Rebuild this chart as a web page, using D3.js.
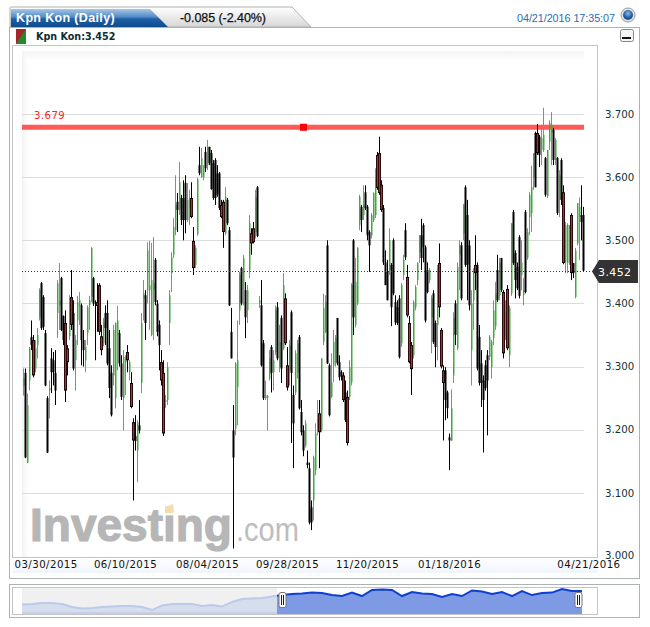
<!DOCTYPE html>
<meta charset="utf-8">
<style type="text/css">
html, body { margin: 0; padding: 0; background: #fff; }
svg { display: block; font-family: "DejaVu Sans", sans-serif; }
.grid { stroke: #dcdcdc; stroke-width: 1; shape-rendering: crispEdges; }
.frame { fill: none; stroke: #c4c4c4; stroke-width: 1; shape-rendering: crispEdges; }
.panel { fill: #fff; stroke: #adb2b2; stroke-width: 1; shape-rendering: crispEdges; }
.axis path, .axis line { display: none; }
.axis text { fill: #12323a; font-family: "DejaVu Sans", sans-serif; font-size: 10.2px; }
.dates text { fill: #111; letter-spacing: 0.45px; }
</style>
<body>
<div id="chart"></div>
<script src="https://d3js.org/d3.v7.min.js"></script>
<script type="text/javascript">
// daily candles
var opens = [
3.270,3.290,3.148,3.278,3.347,3.342,3.297,3.334,3.378,3.432,
3.410,3.353,3.250,3.262,3.313,3.310,3.290,3.385,3.397,3.440,
3.380,3.369,3.329,3.348,3.410,3.385,3.310,3.373,3.396,3.397,
3.342,3.310,3.353,3.397,3.410,3.440,3.400,3.402,3.429,3.348,
3.337,3.385,3.385,3.329,3.290,3.286,3.250,3.350,3.353,3.305,
3.250,3.307,3.323,3.291,3.274,3.212,3.190,3.167,3.207,3.274,
3.408,3.413,3.421,3.421,3.350,3.421,3.469,3.399,3.366,3.307,
3.290,3.244,3.247,3.369,3.448,3.477,3.516,3.561,3.548,3.567,
3.567,3.591,3.532,3.553,3.567,3.499,3.461,3.510,3.619,3.600,
3.600,3.640,3.619,3.648,3.638,3.622,3.627,3.606,3.606,3.556,
3.561,3.511,3.564,3.516,3.355,3.199,3.202,3.267,3.389,3.456,
3.421,3.421,3.389,3.453,3.511,3.519,3.513,3.584,3.400,3.397,
3.337,3.250,3.250,3.281,3.331,3.291,3.323,3.394,3.299,3.377,
3.329,3.408,3.302,3.294,3.386,3.255,3.259,3.290,3.347,3.228,
3.199,3.175,3.148,3.139,3.077,3.088,3.136,3.199,3.226,3.199,
3.339,3.355,3.492,3.302,3.252,3.302,3.307,3.377,3.307,3.291,
3.286,3.259,3.252,3.252,3.275,3.500,3.366,3.400,3.524,3.553,
3.540,3.576,3.553,3.513,3.508,3.532,3.540,3.635,3.638,3.588,
3.551,3.465,3.450,3.453,3.461,3.500,3.402,3.394,3.408,3.337,
3.445,3.516,3.442,3.369,3.334,3.318,3.394,3.437,3.480,3.508,
3.524,3.489,3.453,3.437,3.377,3.416,3.369,3.366,3.464,3.358,
3.294,3.294,3.259,3.188,3.183,3.286,3.400,3.329,3.477,3.492,
3.511,3.584,3.540,3.492,3.326,3.405,3.461,3.461,3.347,3.305,
3.278,3.302,3.318,3.315,3.299,3.345,3.364,3.453,3.413,3.472,
3.418,3.347,3.423,3.318,3.416,3.545,3.480,3.458,3.505,3.445,
3.413,3.545,3.472,3.537,3.543,3.599,3.670,3.670,3.664,3.643,
3.643,3.630,3.570,3.656,3.671,3.675,3.627,3.630,3.564,3.627,
3.576,3.465,3.464,3.464,3.540,3.464,3.410,3.495,3.537,3.540,3.540];
var highs = [
3.297,3.297,3.257,3.331,3.373,3.350,3.342,3.361,3.424,3.434,
3.413,3.358,3.253,3.278,3.329,3.323,3.326,3.437,3.464,3.442,
3.381,3.389,3.334,3.413,3.453,3.405,3.350,3.412,3.418,3.400,
3.358,3.342,3.397,3.412,3.489,3.442,3.405,3.432,3.432,3.366,
3.377,3.397,3.405,3.358,3.302,3.366,3.370,3.396,3.358,3.318,
3.326,3.318,3.334,3.310,3.291,3.218,3.223,3.215,3.247,3.385,
3.437,3.421,3.497,3.499,3.496,3.505,3.472,3.405,3.373,3.326,
3.310,3.255,3.307,3.421,3.481,3.535,3.603,3.575,3.624,3.572,
3.595,3.603,3.591,3.580,3.592,3.521,3.492,3.599,3.648,3.646,
3.619,3.648,3.659,3.648,3.643,3.627,3.630,3.619,3.608,3.564,
3.564,3.584,3.567,3.521,3.393,3.239,3.307,3.373,3.450,3.458,
3.477,3.434,3.429,3.540,3.519,3.529,3.580,3.586,3.412,3.437,
3.342,3.278,3.255,3.326,3.334,3.326,3.397,3.402,3.366,3.381,
3.448,3.416,3.331,3.342,3.389,3.270,3.326,3.342,3.350,3.247,
3.207,3.215,3.167,3.148,3.088,3.159,3.210,3.247,3.247,3.313,
3.415,3.413,3.500,3.305,3.321,3.358,3.350,3.377,3.318,3.294,
3.291,3.278,3.262,3.310,3.432,3.502,3.472,3.489,3.572,3.556,
3.587,3.587,3.556,3.516,3.543,3.576,3.614,3.640,3.664,3.595,
3.556,3.484,3.469,3.519,3.464,3.503,3.413,3.405,3.413,3.432,
3.477,3.527,3.461,3.380,3.339,3.405,3.429,3.465,3.508,3.534,
3.527,3.492,3.465,3.456,3.413,3.421,3.373,3.461,3.495,3.361,
3.302,3.299,3.262,3.194,3.264,3.386,3.405,3.465,3.500,3.497,
3.557,3.587,3.564,3.500,3.421,3.456,3.508,3.465,3.366,3.326,
3.286,3.310,3.326,3.350,3.342,3.405,3.434,3.477,3.472,3.472,
3.421,3.405,3.429,3.397,3.527,3.548,3.484,3.465,3.508,3.500,
3.440,3.548,3.519,3.576,3.618,3.638,3.672,3.684,3.667,3.683,
3.710,3.632,3.643,3.690,3.703,3.678,3.662,3.632,3.611,3.630,
3.587,3.529,3.527,3.524,3.543,3.464,3.488,3.559,3.568,3.587,3.553];
var lows = [
3.254,3.155,3.147,3.262,3.326,3.283,3.291,3.313,3.373,3.358,
3.358,3.269,3.163,3.218,3.258,3.270,3.239,3.345,3.358,3.356,
3.334,3.244,3.286,3.342,3.358,3.294,3.262,3.334,3.366,3.302,
3.300,3.291,3.334,3.358,3.402,3.396,3.310,3.355,3.350,3.318,
3.332,3.334,3.302,3.250,3.221,3.270,3.234,3.294,3.300,3.247,
3.199,3.255,3.291,3.278,3.234,3.088,3.167,3.117,3.194,3.258,
3.373,3.342,3.400,3.358,3.348,3.342,3.397,3.348,3.294,3.270,
3.190,3.234,3.239,3.334,3.418,3.472,3.508,3.513,3.540,3.524,
3.500,3.511,3.529,3.524,3.535,3.445,3.456,3.507,3.603,3.599,
3.595,3.608,3.611,3.619,3.580,3.564,3.556,3.569,3.548,3.535,
3.488,3.508,3.524,3.396,3.313,3.012,3.191,3.207,3.366,3.397,
3.397,3.345,3.369,3.440,3.477,3.495,3.503,3.505,3.393,3.300,
3.247,3.247,3.199,3.278,3.259,3.262,3.318,3.310,3.291,3.274,
3.326,3.334,3.262,3.270,3.179,3.139,3.255,3.281,3.232,3.191,
3.158,3.172,3.139,3.050,3.041,3.056,3.128,3.191,3.139,3.196,
3.334,3.353,3.304,3.221,3.250,3.275,3.300,3.302,3.278,3.278,
3.244,3.212,3.175,3.247,3.270,3.350,3.362,3.397,3.516,3.513,
3.532,3.548,3.500,3.450,3.503,3.529,3.535,3.580,3.572,3.545,
3.461,3.429,3.405,3.445,3.364,3.413,3.366,3.366,3.313,3.331,
3.437,3.469,3.378,3.305,3.255,3.313,3.389,3.429,3.464,3.453,
3.465,3.370,3.416,3.432,3.321,3.336,3.299,3.310,3.378,3.297,
3.183,3.215,3.218,3.136,3.182,3.274,3.334,3.326,3.421,3.405,
3.500,3.458,3.405,3.389,3.270,3.358,3.421,3.294,3.270,3.236,
3.164,3.262,3.191,3.310,3.281,3.334,3.358,3.402,3.405,3.418,
3.313,3.342,3.326,3.299,3.412,3.461,3.408,3.421,3.408,3.421,
3.397,3.416,3.469,3.508,3.513,3.580,3.584,3.635,3.616,3.619,
3.640,3.569,3.567,3.643,3.619,3.619,3.619,3.540,3.537,3.556,
3.462,3.448,3.448,3.461,3.437,3.440,3.408,3.492,3.469,3.500,3.450];
var closes = [
3.281,3.156,3.239,3.329,3.334,3.286,3.329,3.350,3.421,3.361,
3.363,3.270,3.164,3.266,3.291,3.291,3.262,3.432,3.405,3.358,
3.342,3.262,3.307,3.402,3.366,3.297,3.342,3.402,3.405,3.342,
3.326,3.331,3.394,3.405,3.488,3.400,3.399,3.396,3.355,3.326,
3.370,3.361,3.305,3.266,3.223,3.358,3.369,3.373,3.305,3.252,
3.315,3.313,3.310,3.307,3.236,3.183,3.182,3.212,3.199,3.369,
3.416,3.369,3.484,3.429,3.437,3.432,3.402,3.355,3.334,3.278,
3.194,3.247,3.299,3.413,3.473,3.521,3.556,3.548,3.592,3.532,
3.532,3.532,3.564,3.567,3.537,3.456,3.488,3.597,3.606,3.630,
3.614,3.614,3.648,3.622,3.581,3.567,3.567,3.572,3.551,3.537,
3.513,3.569,3.527,3.397,3.313,3.156,3.305,3.310,3.445,3.400,
3.472,3.378,3.421,3.527,3.495,3.497,3.569,3.507,3.405,3.302,
3.250,3.255,3.253,3.313,3.290,3.310,3.389,3.313,3.339,3.297,
3.429,3.337,3.267,3.334,3.290,3.210,3.321,3.337,3.234,3.196,
3.167,3.210,3.144,3.053,3.053,3.156,3.194,3.218,3.196,3.313,
3.393,3.402,3.305,3.223,3.275,3.339,3.345,3.305,3.283,3.285,
3.247,3.215,3.179,3.299,3.429,3.378,3.434,3.488,3.569,3.532,
3.556,3.551,3.508,3.492,3.540,3.575,3.599,3.583,3.575,3.548,
3.465,3.429,3.405,3.500,3.394,3.416,3.370,3.369,3.315,3.429,
3.469,3.473,3.381,3.307,3.296,3.402,3.426,3.464,3.508,3.472,
3.489,3.373,3.418,3.453,3.408,3.339,3.331,3.456,3.394,3.300,
3.274,3.247,3.234,3.183,3.234,3.377,3.350,3.458,3.492,3.408,
3.557,3.461,3.461,3.397,3.400,3.450,3.448,3.297,3.274,3.274,
3.247,3.266,3.278,3.347,3.339,3.389,3.416,3.405,3.464,3.421,
3.321,3.385,3.329,3.393,3.527,3.464,3.437,3.424,3.412,3.465,
3.421,3.418,3.513,3.572,3.584,3.638,3.584,3.638,3.635,3.662,
3.667,3.572,3.643,3.686,3.683,3.627,3.659,3.543,3.603,3.564,
3.464,3.524,3.524,3.524,3.448,3.448,3.484,3.559,3.553,3.529,3.452];
// bars the site paints dark red
var redBars = [5,21,22,24,37,38,39,52,54,55,69,70,84,85,99,100,114,115,131,132,148,160,162,
  177,178,179,192,193,194,208,209,210,226,240,242,257,270,274];

var priceTicks = [3.0, 3.1, 3.2, 3.3, 3.4, 3.5, 3.6, 3.7];
var dateTickIndex = [0, 51, 92, 132, 172, 213, 280];
var dateTickLabels = ["03/30/2015", "06/10/2015", "08/04/2015", "09/28/2015", "11/20/2015", "01/18/2016", "04/21/2016"];

var lastPrice = 3.452;
var hLinePrice = 3.679;

// overview strip, whole history
var overviewValues = [2.37,2.41,2.49,2.49,2.41,2.16,2.04,2.08,2.16,2.20,
  2.25,2.25,2.16,1.92,2.29,2.41,2.41,2.41,2.25,2.33,
  2.20,2.57,2.81,2.85,2.89,3.01,3.13,3.21,3.25,3.33,
  3.29,3.13,3.05,3.33,3.05,3.54,3.58,3.54,3.05,3.37,
  3.25,3.21,2.97,3.21,3.05,3.50,3.41,3.21,3.37,3.05,
  3.45,3.13,3.29,3.33,3.62,3.45,3.45];

var svg = d3.select("#chart").append("svg").attr("width", 650).attr("height", 627);
var defs = svg.append("defs");

function vGrad(id, stops) {
    var g = defs.append("linearGradient").attr("id", id).attr("x1", 0).attr("y1", 0).attr("x2", 0).attr("y2", 1);
    stops.forEach(function(s) { g.append("stop").attr("offset", s[0]).attr("stop-color", s[1]); });
}
vGrad("tabBlue", [[0, "#a9c6e6"], [0.45, "#4f8ac6"], [0.55, "#1f5fa6"], [1, "#0f4c8e"]]);
vGrad("tabGrey", [[0, "#ffffff"], [1, "#d6d6d6"]]);
vGrad("fadeTop", [[0, "#f4f4f4"], [1, "#ffffff"]]);
vGrad("dateStrip", [[0, "#ffffff"], [1, "#f1f5fc"]]);
var fadeLeft = defs.append("linearGradient").attr("id", "fadeLeft");
fadeLeft.append("stop").attr("offset", 0).attr("stop-color", "#f2f2f2");
fadeLeft.append("stop").attr("offset", 1).attr("stop-color", "#ffffff").attr("stop-opacity", 0);
var globe = defs.append("radialGradient").attr("id", "globe").attr("cx", 0.5).attr("cy", 0.35).attr("r", 0.7);
globe.append("stop").attr("offset", 0).attr("stop-color", "#8fb8e6");
globe.append("stop").attr("offset", 0.55).attr("stop-color", "#2a66ad");
globe.append("stop").attr("offset", 1).attr("stop-color", "#123f78");
defs.append("clipPath").attr("id", "ovOld").append("rect").attr("x", 22).attr("y", 586).attr("width", 255).attr("height", 30);
defs.append("clipPath").attr("id", "ovNew").append("rect").attr("x", 277).attr("y", 586).attr("width", 306).attr("height", 30);

// panels
svg.append("rect").attr("class", "panel").attr("x", 9.5).attr("y", 27.5).attr("width", 630).attr("height", 551);
svg.append("rect").attr("class", "panel").attr("x", 9.5).attr("y", 584.5).attr("width", 630).attr("height", 33);

// header tabs
svg.append("path").attr("d", "M10,27 L10,8 Q10,7 11,7 L292,7 L311,27 Z").attr("fill", "url(#tabGrey)").attr("stroke", "#adb2b2");
svg.append("path").attr("d", "M11,27 L11,9 L150,9 L168,27 Z").attr("fill", "url(#tabBlue)");
svg.append("text").attr("x", 16).attr("y", 22).attr("fill", "#fff").attr("font-family", "'Liberation Sans', sans-serif")
    .attr("font-weight", "bold").attr("font-size", 12.5).attr("letter-spacing", 0.35).text("Kpn Kon (Daily)");
svg.append("text").attr("x", 180).attr("y", 22).attr("fill", "#111").attr("stroke", "#111").attr("stroke-width", 0.25)
    .attr("font-family", "'Liberation Sans', sans-serif")
    .attr("font-size", 12.5).attr("textLength", 86).text("-0.085 (-2.40%)");
svg.append("text").attr("x", 517).attr("y", 22).attr("fill", "#2a6db0").attr("font-family", "'Liberation Sans', sans-serif")
    .attr("font-size", 10.8).attr("textLength", 98).text("04/21/2016 17:35:07");
svg.append("circle").attr("cx", 628).attr("cy", 15).attr("r", 7).attr("fill", "#e6e6e6").attr("stroke", "#999");
svg.append("circle").attr("cx", 628).attr("cy", 15).attr("r", 5).attr("fill", "url(#globe)");

// legend line
svg.append("rect").attr("x", 16).attr("y", 29).attr("width", 10).attr("height", 15).attr("fill", "#228b2b");
svg.append("path").attr("d", "M16,29 L26,29 L16,44 Z").attr("fill", "#a3262a");
svg.append("text").attr("x", 36).attr("y", 40).attr("fill", "#0c2d33").attr("font-weight", "bold").attr("font-size", 9.6).text("Kpn Kon:3.452");
svg.append("rect").attr("x", 620.5).attr("y", 29.5).attr("width", 13).attr("height", 12).attr("rx", 2).attr("fill", "#f4f4f4").attr("stroke", "#888");
svg.append("rect").attr("x", 622).attr("y", 37).attr("width", 9).attr("height", 2).attr("fill", "#111");

// plot background
svg.append("rect").attr("x", 22).attr("y", 51).attr("width", 562).attr("height", 10).attr("fill", "url(#fadeTop)");
svg.append("rect").attr("x", 22).attr("y", 51).attr("width", 9).attr("height", 506).attr("fill", "url(#fadeLeft)");
svg.append("rect").attr("x", 12.5).attr("y", 557).attr("width", 585).attr("height", 16).attr("fill", "url(#dateStrip)");
svg.append("rect").attr("class", "frame").attr("x", 12.5).attr("y", 45.5).attr("width", 585).attr("height", 511.5);

// watermark
var logo = svg.append("g").attr("font-family", "'Liberation Sans', sans-serif");
logo.append("text").attr("x", 30).attr("y", 541).attr("fill", "#b6b6b6").attr("stroke", "#b6b6b6").attr("stroke-width", 1.2)
    .attr("font-weight", "bold").attr("font-size", 46).text("Investing");
logo.append("path").attr("d", "M165,507 L173,504 L173,513 L165,513 Z").attr("fill", "#f3dcae");
logo.append("text").attr("x", 236).attr("y", 541).attr("fill", "#bdbdbd")
    .attr("font-size", 33).attr("textLength", 63).attr("lengthAdjust", "spacingAndGlyphs").text(".com");

// scales
var xScale = d3.scaleLinear().domain([0, closes.length - 1]).range([23, 583]);
var yScale = d3.scaleLinear().domain([3.0, 3.7]).range([556, 114]);

svg.append("g").selectAll("line").data(priceTicks.slice(1)).enter().append("line")
    .attr("class", "grid")
    .attr("x1", 22).attr("x2", 584)
    .attr("y1", function(d) { return Math.round(yScale(d)) + 0.5; })
    .attr("y2", function(d) { return Math.round(yScale(d)) + 0.5; });

var yAxis = d3.axisRight(yScale).tickValues(priceTicks).tickFormat(d3.format(".3f")).tickSize(0).tickPadding(0);
svg.append("g").attr("class", "axis").attr("transform", "translate(605,0)").call(yAxis)
    .selectAll("text").attr("dy", function(d) { return d === 3.0 ? "0.2em" : "0.32em"; });

var xAxis = d3.axisBottom(xScale).tickValues(dateTickIndex)
    .tickFormat(function(d, i) { return dateTickLabels[i]; }).tickSize(0).tickPadding(0);
var dateAxis = svg.append("g").attr("class", "axis dates").attr("transform", "translate(0,561)").call(xAxis);
dateAxis.selectAll("text").attr("text-anchor", function(d, i) {
    return i === 0 ? "start" : i === dateTickIndex.length - 1 ? "end" : "middle";
}).attr("dx", function(d, i) { return i === 0 ? -9 : i === dateTickIndex.length - 1 ? 37 : 0; });

// reference line with its label
svg.append("line").attr("x1", 22).attr("x2", 584).attr("y1", yScale(hLinePrice)).attr("y2", yScale(hLinePrice))
    .attr("stroke", "#ff3c3c").attr("stroke-opacity", 0.85).attr("stroke-width", 5);
svg.append("rect").attr("x", 300).attr("y", yScale(hLinePrice) - 3.5).attr("width", 7).attr("height", 7).attr("fill", "#f00");
svg.append("text").attr("x", 34).attr("y", 119).attr("fill", "#f22").attr("font-size", 10.2).attr("letter-spacing", 0.4).text(d3.format(".3f")(hLinePrice));

// candles
var bars = svg.append("g");
closes.forEach(function(c, i) {
    var up = c > opens[i];
    var red = redBars.indexOf(i) >= 0;
    var x = Math.round(xScale(i)) + 0.5;
    var top = yScale(Math.max(opens[i], c));
    var bottom = yScale(Math.min(opens[i], c));
    bars.append("line").attr("x1", x).attr("x2", x)
        .attr("y1", yScale(highs[i])).attr("y2", yScale(lows[i]))
        .attr("stroke", up ? "#8a8a8a" : "#000").attr("stroke-width", 1);
    if (red) {
        bars.append("rect").attr("x", x - 1.5).attr("y", top).attr("width", 3).attr("height", bottom - top)
            .attr("fill", "#000");
        bars.append("rect").attr("x", x - 0.75).attr("y", top + 1).attr("width", 1.5).attr("height", Math.max(0, bottom - top - 2))
            .attr("fill", "#c0272d");
    } else if (up) {
        bars.append("rect").attr("x", x - 0.5).attr("y", top).attr("width", 1.5).attr("height", bottom - top)
            .attr("fill", "#3fa83f");
    } else {
        bars.append("rect").attr("x", x - 1).attr("y", top).attr("width", 2).attr("height", bottom - top)
            .attr("fill", "#000");
    }
});

// last price
svg.append("line").attr("x1", 22).attr("x2", 593).attr("y1", Math.round(yScale(lastPrice)) + 0.5).attr("y2", Math.round(yScale(lastPrice)) + 0.5)
    .attr("stroke", "#333").attr("stroke-width", 1).attr("stroke-dasharray", "1,2");
svg.append("path").attr("d", "M592,271.5 L599,260 L638,260 L638,283 L599,283 Z").attr("fill", "#333");
svg.append("text").attr("x", 598).attr("y", 275.5).attr("fill", "#fff").attr("font-size", 11).attr("letter-spacing", 0.4).text(d3.format(".3f")(lastPrice));

// overview
svg.append("rect").attr("class", "frame").attr("x", 12.5).attr("y", 587.5).attr("width", 585).attr("height", 27);
svg.append("rect").attr("x", 22).attr("y", 588).attr("width", 255).attr("height", 26).attr("fill", "#f0f0f0");
var ovX = d3.scaleLinear().domain([0, overviewValues.length - 1]).range([22, 582]);
var ovY = d3.scaleLinear().domain([1.6, 3.7]).range([614, 588]);
var ovArea = d3.area().x(function(d, i) { return ovX(i); }).y0(614).y1(function(d) { return ovY(d); });
var ovLine = d3.line().x(function(d, i) { return ovX(i); }).y(function(d) { return ovY(d); });
svg.append("path").datum(overviewValues).attr("d", ovArea).attr("fill", "#d6ddec").attr("clip-path", "url(#ovOld)");
svg.append("path").datum(overviewValues).attr("d", ovArea).attr("fill", "#7f9ae4").attr("clip-path", "url(#ovNew)");
svg.append("path").datum(overviewValues).attr("d", ovLine).attr("fill", "none").attr("stroke", "#bccbeb").attr("stroke-width", 2).attr("clip-path", "url(#ovOld)");
svg.append("path").datum(overviewValues).attr("d", ovLine).attr("fill", "none").attr("stroke", "#0f3fd0").attr("stroke-width", 2).attr("clip-path", "url(#ovNew)");
svg.append("line").attr("x1", 22).attr("x2", 277).attr("y1", 613).attr("y2", 613).attr("stroke", "#bccbeb").attr("stroke-width", 1.5);

[282.5, 578.5].forEach(function(hx) {
    svg.append("rect").attr("x", hx - 3.5).attr("y", 592.5).attr("width", 7).attr("height", 15).attr("rx", 2)
        .attr("fill", "#fff").attr("stroke", "#777");
    svg.append("path").attr("d", "M" + (hx - 1) + ",595V605M" + (hx + 1) + ",595V605").attr("stroke", "#222").attr("stroke-width", 1);
});
</script>
</body>
